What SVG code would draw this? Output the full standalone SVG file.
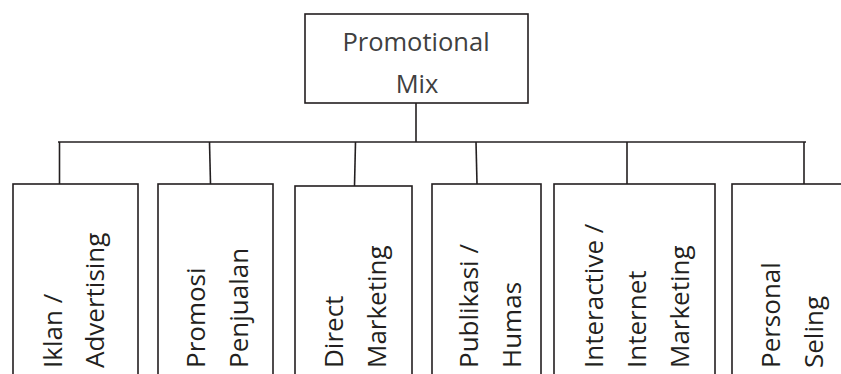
<svg xmlns="http://www.w3.org/2000/svg" width="841" height="374" viewBox="0 0 841 374">
<style>
.box{fill:#fff;stroke:#231f20;stroke-width:1.6}
.con{fill:none;stroke:#231f20;stroke-width:1.6}
.t{font-family:"Open Sans","Noto Sans",sans-serif;font-size:26px;fill:#231f20}
.top{font-family:"Open Sans","Noto Sans",sans-serif;font-size:25.5px;fill:#404040;text-anchor:middle}
</style>
<rect width="841" height="374" fill="#fff"/>
<g id="connectors">
<line class="con" x1="416" y1="103" x2="416" y2="142"/>
<line class="con" x1="58" y1="142" x2="806" y2="142"/>
<line class="con" x1="59.5" y1="142" x2="59.5" y2="184"/>
<line class="con" x1="209.5" y1="142" x2="210.5" y2="184"/>
<line class="con" x1="355.5" y1="142" x2="354.5" y2="186"/>
<line class="con" x1="476" y1="142" x2="477" y2="184"/>
<line class="con" x1="627" y1="142" x2="627" y2="184"/>
<line class="con" x1="804" y1="142" x2="804" y2="184"/>
</g>
<g id="promotional-mix">
<rect class="box" x="305" y="14" width="223" height="89"/>
<text class="top" x="416" y="51">Promotional</text>
<text class="top" x="417" y="93">Mix</text>
</g>
<g id="iklan">
<rect class="box" x="13" y="184" width="125" height="200"/>
<text class="t" transform="translate(62,368) rotate(-90)">Iklan /</text>
<text class="t" transform="translate(104,368) rotate(-90)">Advertising</text>
</g>
<g id="promosi">
<rect class="box" x="158" y="184" width="115" height="200"/>
<text class="t" transform="translate(205,368) rotate(-90)">Promosi</text>
<text class="t" transform="translate(248,368) rotate(-90)">Penjualan</text>
</g>
<g id="direct">
<rect class="box" x="295" y="186" width="117" height="200"/>
<text class="t" transform="translate(343,368) rotate(-90)">Direct</text>
<text class="t" transform="translate(386,368) rotate(-90)">Marketing</text>
</g>
<g id="publikasi">
<rect class="box" x="432" y="184" width="109" height="200"/>
<text class="t" transform="translate(478,368) rotate(-90)">Publikasi /</text>
<text class="t" transform="translate(521,368) rotate(-90)">Humas</text>
</g>
<g id="interactive">
<rect class="box" x="554" y="184" width="161" height="200"/>
<text class="t" transform="translate(603,368) rotate(-90)">Interactive /</text>
<text class="t" transform="translate(646,368) rotate(-90)">Internet</text>
<text class="t" transform="translate(689,368) rotate(-90)">Marketing</text>
</g>
<g id="personal">
<rect class="box" x="732" y="184" width="130" height="200"/>
<text class="t" transform="translate(780,368) rotate(-90)">Personal</text>
<text class="t" transform="translate(823,368) rotate(-90)">Seling</text>
</g>
</svg>
